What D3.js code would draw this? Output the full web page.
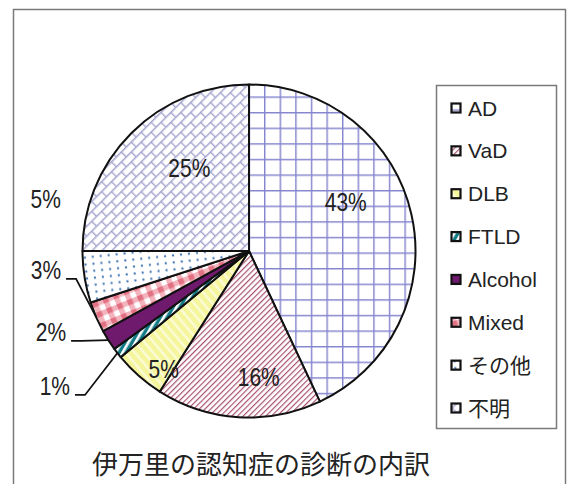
<!DOCTYPE html>
<html>
<head>
<meta charset="utf-8">
<script src="https://cdn.jsdelivr.net/npm/d3@7"></script>
<style>
  body { margin: 0; background: #fff; }
</style>
</head>
<body>
<div id="chart"></div>
<script>
// data
var categories = ['AD', 'VaD', 'DLB', 'FTLD', 'Alcohol', 'Mixed', 'その他', '不明'];
var percents = [43, 16, 5, 1, 2, 3, 5, 25];
var pctLabels = ['43%', '16%', '5%', '1%', '2%', '3%', '5%', '25%'];
var chartTitle = '伊万里の認知症の診断の内訳';

var width = 567, height = 484;
var cx = 249, cy = 251, radius = 166.5;
var pctFont = "'Liberation Sans', Arial, sans-serif";
var narrow = 0.84;

// label placement: angle shift (deg) from slice middle and radius factor
var labelLayout = [
    { da: -14, rf: 0.65 },
    { da: -8, rf: 0.76 },
    { da: -5.5, rf: 0.874 },
    { da: 3, rf: 1.42, leader: true },
    { da: 10.2, rf: 1.285, leader: true },
    { da: 18.1, rf: 1.225, leader: true },
    { da: 23.3, rf: 1.26 },
    { da: 9, rf: 0.61 }
];

var svg = d3.select('#chart')
    .append('svg')
    .attr('width', width)
    .attr('height', height);

svg.append('rect')
    .attr('width', width).attr('height', height)
    .attr('fill', '#fff');

// outer frame
svg.append('rect')
    .attr('x', 13.5).attr('y', 9.5)
    .attr('width', 552).attr('height', 490)
    .attr('fill', 'none')
    .attr('stroke', '#7a7a7a')
    .attr('stroke-width', 1.5);

var defs = svg.append('defs');

function makePattern(id, w, h, bg, transform) {
    var p = defs.append('pattern')
        .attr('id', id)
        .attr('patternUnits', 'userSpaceOnUse')
        .attr('width', w).attr('height', h);
    if (transform) p.attr('patternTransform', transform);
    p.append('rect').attr('width', w).attr('height', h).attr('fill', bg);
    return p;
}

// AD: grid
var pAD = makePattern('pat0', 15.6, 15.6, '#fff', 'translate(' + cx + ',' + cy + ')');
pAD.append('path').attr('d', 'M0,0.7H15.6M0.7,0V15.6')
    .attr('stroke', '#8686cf').attr('stroke-width', 1.5);

// VaD: fine diagonal lines
var pVaD = makePattern('pat1', 4, 4, '#fff', 'rotate(45)');
pVaD.append('path').attr('d', 'M0.6,0V4')
    .attr('stroke', '#a9506f').attr('stroke-width', 1.2);

// DLB: yellow with pale stripes
var pDLB = makePattern('pat2', 7, 7, '#f5f59c', 'rotate(-40)');
pDLB.append('rect').attr('width', 2.5).attr('height', 7).attr('fill', '#fbfbd6');

// FTLD: teal with white stripes
var pFT = makePattern('pat3', 6, 6, '#137b86', 'rotate(30)');
pFT.append('rect').attr('width', 2.6).attr('height', 6).attr('fill', '#fff');

// Alcohol: solid purple
var pAl = makePattern('pat4', 4, 4, '#6f1a6c');

// Mixed: pink gingham
var pMx = makePattern('pat5', 11, 11, '#fff', 'rotate(-22)');
pMx.append('rect').attr('width', 5.5).attr('height', 11).attr('fill', '#f3b3bd');
pMx.append('rect').attr('width', 11).attr('height', 5.5).attr('fill', '#f3b3bd');
pMx.append('rect').attr('width', 5.5).attr('height', 5.5).attr('fill', '#e27083');

// その他: blue dots
var pOt = makePattern('pat6', 8, 7, '#fff', 'rotate(-6)');
pOt.append('circle').attr('cx', 4).attr('cy', 3.5).attr('r', 1.15).attr('fill', '#3f74b2');

// 不明: diagonal brick
var pUn = makePattern('pat7', 14, 14, '#fff', 'rotate(-45)');
pUn.append('path').attr('d', 'M0,0.7H14M0,7.7H14M0.7,0V7M7.7,7V14')
    .attr('stroke', '#a6a6d0').attr('stroke-width', 1.4);

var pie = d3.pie()
    .sort(null)
    .value(function(d) { return d; });

var arcs = pie(percents);

var arc = d3.arc()
    .innerRadius(0)
    .outerRadius(radius);

var g = svg.append('g')
    .attr('transform', 'translate(' + cx + ',' + cy + ')');

g.selectAll('path.slice')
    .data(arcs)
    .enter()
    .append('path')
    .attr('class', 'slice')
    .attr('d', arc)
    .attr('fill', function(d, i) { return 'url(#pat' + i + ')'; })
    .attr('stroke', '#111')
    .attr('stroke-width', 2)
    .attr('stroke-linejoin', 'round');

function polar(angle, r) {
    return [Math.sin(angle) * r, -Math.cos(angle) * r];
}

// percentage labels
arcs.forEach(function(d, i) {
    var lay = labelLayout[i];
    var mid = (d.startAngle + d.endAngle) / 2;
    var pos = polar(mid + lay.da * Math.PI / 180, radius * lay.rf);
    var t = g.append('text')
        .attr('transform', 'translate(' + pos[0] + ',' + pos[1] + ') scale(' + narrow + ',1)')
        .attr('text-anchor', 'middle')
        .attr('dominant-baseline', 'central')
        .attr('font-family', pctFont)
        .attr('font-size', 25)
        .attr('fill', '#222')
        .text(pctLabels[i]);

    if (lay.leader) {
        var bb = t.node().getBBox();
        var base = pos[1] + 9;
        var edge = polar(mid, radius);
        var x0 = pos[0] + bb.width * narrow / 2 + 5;
        g.append('path')
            .attr('d', 'M' + x0 + ',' + base + 'H' + (x0 + 10) + 'L' + edge[0] + ',' + edge[1])
            .attr('fill', 'none')
            .attr('stroke', '#111')
            .attr('stroke-width', 1.8);
    }
});

// legend
var legX = 436.5, legY = 85.5, legW = 120, legH = 343;
svg.append('rect')
    .attr('x', legX).attr('y', legY)
    .attr('width', legW).attr('height', legH)
    .attr('fill', '#fff')
    .attr('stroke', '#7a7a7a')
    .attr('stroke-width', 1.5);

var legScale = d3.scalePoint()
    .domain(categories)
    .range([108, 408]);

var leg = svg.selectAll('g.leg')
    .data(categories)
    .enter()
    .append('g')
    .attr('class', 'leg')
    .attr('transform', function(d) { return 'translate(451,' + legScale(d) + ')'; });

leg.append('rect')
    .attr('x', 0.5).attr('y', -4.5)
    .attr('width', 9).attr('height', 9)
    .attr('fill', function(d, i) { return 'url(#pat' + i + ')'; })
    .attr('stroke', '#111')
    .attr('stroke-width', 2.2);

leg.append('text')
    .attr('x', 17)
    .attr('y', 0)
    .attr('dominant-baseline', 'central')
    .attr('font-family', "'Liberation Sans', Arial, 'Noto Sans CJK JP', sans-serif")
    .attr('font-size', 21)
    .attr('fill', '#222')
    .text(function(d) { return d; });

// title
svg.append('text')
    .attr('x', 261)
    .attr('y', 462)
    .attr('text-anchor', 'middle')
    .attr('dominant-baseline', 'central')
    .attr('font-family', "'Noto Sans CJK JP', sans-serif")
    .attr('font-size', 26)
    .attr('fill', '#222')
    .text(chartTitle);
</script>
</body>
</html>
